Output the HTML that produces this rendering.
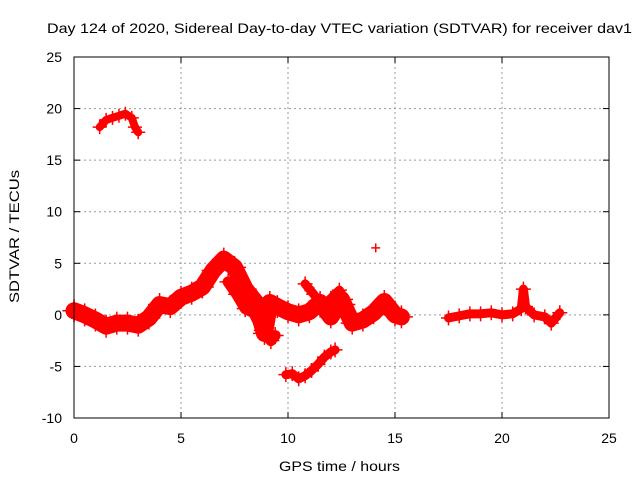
<!DOCTYPE html>
<html><head><meta charset="utf-8"><style>
body{margin:0;background:#fff;}
svg{display:block;font-family:"Liberation Sans",sans-serif;}
</style></head><body>
<svg id="chart" width="640" height="480" viewBox="0 0 640 480">
<text x="47" y="33" font-size="14" textLength="585" lengthAdjust="spacingAndGlyphs">Day 124 of 2020, Sidereal Day-to-day VTEC variation (SDTVAR) for receiver dav1</text>
<text x="279" y="471" font-size="14" textLength="121" lengthAdjust="spacingAndGlyphs">GPS time / hours</text>
<text x="0" y="0" font-size="14" textLength="133" lengthAdjust="spacingAndGlyphs" transform="translate(19,303) rotate(-90)">SDTVAR / TECUs</text>
<g id="grid"></g><g id="marks"></g>
<rect x="74" y="57" width="535" height="361" fill="none" stroke="#000" stroke-width="1"/>
</svg>
<script>
const xTicks=[0,5,10,15,20,25];
const yTicks=[-10,-5,0,5,10,15,20,25];
// main trace 0-15.3 h
const mainT=[0,0.5,1,1.5,2,2.5,3,3.5,4,4.5,5,5.5,6,6.5,7,7.5,8,8.5,8.9,9.15,9.5,10,10.5,11,11.5,12,12.5,13,13.5,14,14.5,15,15.3];
const mainV=[0.4,0,-0.5,-1.1,-0.8,-0.8,-1,-0.3,1,0.8,1.7,2.1,2.7,4.3,5.4,4.6,2.5,1.2,-1.8,1.2,0.8,0.3,0,0.3,1.2,-0.2,1.5,-0.8,-0.5,0.2,1.3,0,-0.2];
// secondary branches
const branchT=[7.2,7.6,8.0,8.4,8.8,9.2,9.4];
const branchV=[3.2,2.0,0.6,0.2,-1.5,-2.5,-2.0];
const branch2T=[10.8,11.2,11.6,12.0,12.4,12.8];
const branch2V=[3.0,2.0,0.8,1.6,2.4,1.0];
const lowT=[9.9,10.2,10.5,10.8,11.1,11.4,11.7,12.0,12.2];
const lowV=[-5.8,-5.7,-6.2,-5.9,-5.4,-4.8,-4.1,-3.6,-3.4];
const upperT=[1.2,1.5,1.8,2.1,2.4,2.7,2.85,3.0];
const upperV=[18.2,18.9,19.1,19.3,19.5,19.1,18.2,17.7];
const lateT=[17.5,18,18.5,19,19.5,20,20.5,20.9,21.0,21.1,21.5,22,22.3,22.7];
const lateV=[-0.3,-0.1,0.1,0.1,0.2,0,0.1,0.6,2.5,0.8,0,-0.2,-0.8,0.2];
const outT=[14.1];const outV=[6.5];

const X0=74,X1=609,Y0=418,Y1=57;
const xs=t=>X0+(t-0)/25*(X1-X0);
const ys=v=>Y0-(v+10)/35*(Y0-Y1);
const NS="http://www.w3.org/2000/svg";
const grid=document.getElementById('grid'),marks=document.getElementById('marks');
function mk(tag,attrs,parent){const e=document.createElementNS(NS,tag);for(const k in attrs)e.setAttribute(k,attrs[k]);parent.appendChild(e);return e;}
xTicks.forEach(t=>{
  const x=xs(t);
  if(t>0&&t<25){const g=mk('line',{x1:x,x2:x,y1:Y1,y2:Y0,stroke:'#999','stroke-dasharray':'2,3'},grid);
  
  }
  mk('line',{x1:x,x2:x,y1:Y0,y2:Y0-6,stroke:'#000'},grid);
  mk('line',{x1:x,x2:x,y1:Y1,y2:Y1+6,stroke:'#000'},grid);
  const l=mk('text',{x:x,y:443,'font-size':14,'text-anchor':'middle'},grid);l.textContent=t;
  
  
});
yTicks.forEach(v=>{
  const y=ys(v);
  if(v>-10&&v<25){const g=mk('line',{x1:X0,x2:X1,y1:y,y2:y,stroke:'#999','stroke-dasharray':'2,3'},grid);
  
  }
  mk('line',{x1:X0,x2:X0+6,y1:y,y2:y,stroke:'#000'},grid);
  mk('line',{x1:X1,x2:X1-6,y1:y,y2:y,stroke:'#000'},grid);
  const l=mk('text',{x:62,y:y+5,'font-size':14,'text-anchor':'end'},grid);l.textContent=v;
  
  
});
function series(T,V,w,name){
  const pts=T.map((t,i)=>xs(t)+','+ys(V[i])).join(' ');
  const p=mk('polyline',{points:pts,fill:'none',stroke:'#f00','stroke-width':w,'stroke-linejoin':'round','stroke-linecap':'round'},marks);
  
  
  T.forEach((t,i)=>{
    const x=xs(t),y=ys(V[i]);
    const r=Math.max(4,w/2+3);
    const m=mk('path',{d:`M${x-r},${y}h${2*r}M${x},${y-r}v${2*r}`,stroke:'#f00','stroke-width':1.5},marks);
    
    
  });
}
series(mainT,mainV,17,'main-trace');
series(branchT,branchV,11,'branch-trace');
series(branch2T,branch2V,9,'branch2-trace');
series(lowT,lowV,9,'low-trace');
series(upperT,upperV,8,'upper-trace');
series(lateT,lateV,9,'late-trace');
series(outT,outV,3,'outlier');
</script>
</body></html>
